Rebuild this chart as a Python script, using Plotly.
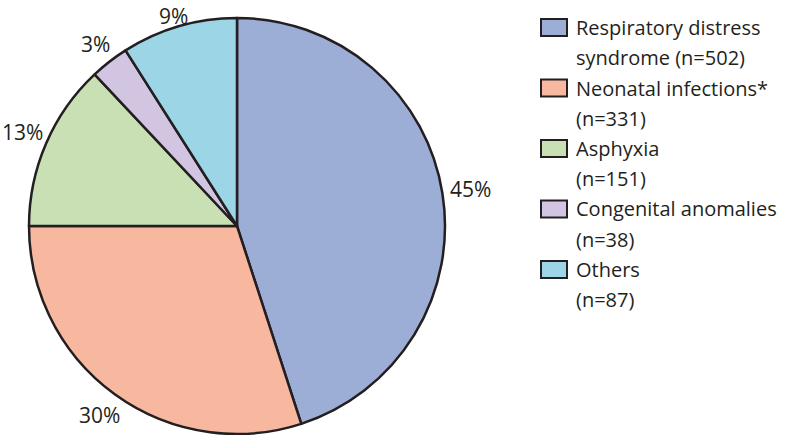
import math
import plotly.graph_objects as go

categories = ["Respiratory distress syndrome", "Neonatal infections*", "Asphyxia",
              "Congenital anomalies", "Others"]
legend_line1 = ["Respiratory distress", "Neonatal infections*", "Asphyxia",
                "Congenital anomalies", "Others"]
legend_line2 = ["syndrome (n=502)", "(n=331)", "(n=151)", "(n=38)", "(n=87)"]
counts = [502, 331, 151, 38, 87]
percent_values = [45, 30, 13, 3, 9]
percent_labels = ["45%", "30%", "13%", "3%", "9%"]
colors = ["#9DAED6", "#F8B8A0", "#C9E0B4", "#D2C5E2", "#9BD5E6"]

W, H = 785, 435
FONT = "Open Sans"
FS = 20          # legend text
LFS = 21         # percentage labels
INK = "#231F20"

# pie geometry (pixels)
CX, CY, R = 237, 226, 208

fig = go.Figure(go.Pie(
    labels=categories,
    values=percent_values,
    text=percent_labels,
    textinfo="none",
    textposition="none",
    marker=dict(colors=colors, line=dict(color=INK, width=2.5)),
    sort=False,
    direction="clockwise",
    rotation=0,
    domain=dict(x=[(CX - R) / W, (CX + R) / W], y=[1 - (CY + R) / H, 1 - (CY - R) / H]),
    showlegend=False,
    hoverinfo="label+value",
))

annotations = []
# percentage labels just outside each slice, along its mid angle
total = sum(percent_values)
cum = 0
for v, lab in zip(percent_values, percent_labels):
    theta = 2 * math.pi * (cum + v / 2) / total
    cum += v
    s, c = math.sin(theta), math.cos(theta)
    tw = LFS * (0.572 * (len(lab) - 1) + 0.82)
    th = LFS * 0.74
    dist = R + 7 + (tw / 2) * abs(s) + (th / 2) * abs(c)
    px = max(CX + dist * s, tw / 2 + 2)
    py = max(CY - dist * c, 0.7 * LFS + 1)
    annotations.append(dict(text=lab, xref="paper", yref="paper",
                            x=px / W, y=1 - py / H, xanchor="center", yanchor="middle",
                            showarrow=False, font=dict(family=FONT, size=LFS, color=INK)))

shapes = []
row0 = 27.5
item_gap = 60.5
line_gap = 30.2
for i, (l1, l2, col) in enumerate(zip(legend_line1, legend_line2, colors)):
    yc = row0 + i * item_gap
    shapes.append(dict(type="rect", xref="paper", yref="paper",
                       x0=541 / W, x1=567 / W, y0=1 - (yc + 8.5) / H, y1=1 - (yc - 8.5) / H,
                       fillcolor=col, line=dict(color=INK, width=2)))
    for j, t in enumerate([l1, l2]):
        annotations.append(dict(text=t, xref="paper", yref="paper",
                                x=574 / W, y=1 - (yc + j * line_gap) / H,
                                xanchor="left", yanchor="middle", showarrow=False,
                                font=dict(family=FONT, size=FS, color=INK)))

fig.update_layout(
    width=W, height=H,
    margin=dict(l=0, r=0, t=0, b=0),
    paper_bgcolor="white", plot_bgcolor="white",
    shapes=shapes, annotations=annotations,
    font=dict(family=FONT, size=FS, color=INK),
)
fig.write_html("out.html", config={"displayModeBar": False},
               post_script="document.body.style.margin='0';document.body.style.overflow='hidden';")
